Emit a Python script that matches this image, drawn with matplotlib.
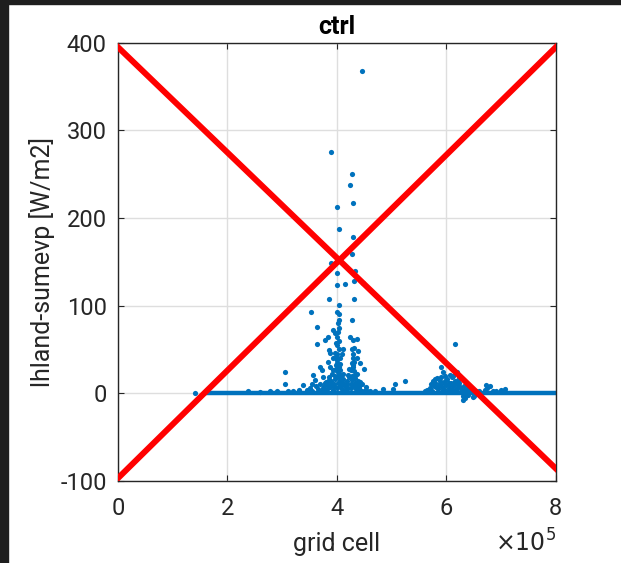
import matplotlib

matplotlib.use("Agg")

import matplotlib.pyplot as plt
from matplotlib.patches import Rectangle
from matplotlib.ticker import FuncFormatter

plt.rcParams["font.family"] = ["Roboto", "DejaVu Sans"]
plt.rcParams["axes.unicode_minus"] = False

# grid cells of the scattered (non-zero) points, and their values
cell_x = [
    4.46e5, 3.89e5, 4.27e5, 4.24e5, 4.29e5, 4.01e5, 4.04e5, 4.30e5, 4.27e5, 3.90e5,
    4.01e5, 4.33e5, 4.01e5, 4.14e5, 4.48e5, 4.32e5, 3.86e5, 4.31e5, 4.04e5, 3.53e5,
    4.01e5, 4.04e5, 4.03e5, 4.27e5, 4.02e5, 3.63e5, 4.04e5, 3.93e5, 3.96e5, 4.01e5,
    3.84e5, 4.24e5, 4.30e5, 4.36e5, 3.78e5, 3.64e5, 3.99e5, 3.86e5, 3.88e5, 4.12e5,
    4.27e5, 4.39e5, 4.09e5, 4.29e5, 4.36e5, 3.99e5, 3.69e5, 3.72e5, 3.84e5, 3.87e5,
    3.93e5, 4.01e5, 4.05e5, 4.42e5, 4.49e5, 4.21e5, 3.05e5, 3.05e5, 3.57e5, 3.60e5,
    3.38e5, 3.75e5, 4.12e5, 3.54e5, 3.81e5, 4.05e5, 4.33e5, 4.42e5, 4.54e5, 4.85e5,
    5.06e5, 5.03e5, 2.78e5, 6.16e5, 5.24e5, 5.91e5, 5.94e5, 6.19e5, 6.06e5, 5.79e5,
    6.00e5, 6.22e5, 6.73e5, 6.79e5, 7.07e5, 6.31e5, 6.49e5, 5.61e5, 1.41e5, 2.37e5,
    3.45e5, 3.50e5, 3.55e5, 3.62e5, 3.66e5, 3.70e5, 3.74e5, 3.78e5, 3.80e5, 3.83e5,
    3.85e5, 3.88e5, 3.90e5, 3.92e5, 3.95e5, 3.97e5, 4.00e5, 4.00e5, 4.02e5, 4.03e5,
    4.04e5, 4.05e5, 4.07e5, 4.10e5, 4.12e5, 4.15e5, 4.18e5, 4.20e5, 4.22e5, 4.25e5,
    4.27e5, 4.28e5, 4.30e5, 4.31e5, 4.33e5, 4.35e5, 4.37e5, 4.40e5, 4.43e5, 4.46e5,
    4.50e5, 4.55e5, 4.60e5, 4.70e5, 4.00e5, 4.01e5, 4.02e5, 4.00e5, 3.99e5, 4.30e5,
    4.29e5, 4.31e5, 4.28e5, 5.65e5, 5.70e5, 5.72e5, 5.75e5, 5.78e5, 5.80e5, 5.83e5,
    5.85e5, 5.88e5, 5.90e5, 5.92e5, 5.95e5, 5.97e5, 6.00e5, 6.02e5, 6.05e5, 6.08e5,
    6.10e5, 6.12e5, 6.15e5, 6.17e5, 6.20e5, 6.23e5, 6.25e5, 6.28e5, 6.30e5, 6.32e5,
    6.35e5, 6.38e5, 6.40e5, 6.45e5, 6.50e5, 6.55e5, 6.60e5, 6.70e5, 6.75e5, 6.85e5,
    6.90e5, 7.00e5, 2.60e5, 2.90e5, 3.10e5, 3.20e5, 3.30e5,
    3.72e5, 3.76e5, 3.82e5, 3.86e5, 3.89e5, 3.91e5, 3.94e5, 3.96e5, 3.98e5, 4.01e5,
    4.03e5, 4.06e5, 4.08e5, 4.11e5, 4.16e5, 4.19e5, 4.23e5, 4.26e5, 4.29e5, 4.32e5,
    4.34e5, 4.38e5, 4.41e5, 4.44e5, 3.92e5, 3.97e5, 4.03e5, 4.06e5, 4.26e5, 4.32e5,
    5.74e5, 5.81e5, 5.86e5, 5.89e5, 5.93e5, 5.98e5, 6.03e5, 6.07e5, 6.11e5, 6.14e5,
    6.18e5, 6.21e5, 6.24e5, 6.27e5, 6.33e5, 6.36e5, 6.42e5, 5.96e5, 6.04e5, 6.13e5,
]
cell_val = [
    368, 275, 250, 238, 217, 213, 188, 178, 159, 149,
    137, 139, 123, 125, 126, 128, 107, 108, 101, 93,
    93, 90, 84, 84, 80, 76, 74, 72, 69, 64,
    64, 64, 61, 62, 61, 56, 57, 49, 46, 50,
    50, 48, 45, 45, 40, 41, 30, 26, 36, 30,
    26, 38, 40, 34, 28, 21, 24, 11, 21, 15,
    9, 19, 22, 11, 13, 15, 17, 13, 7, 5,
    10, 5, 3, 56, 14, 30, 24, 24, 21, 16,
    15, 15, 9, 8, 5, -8, -4, 3, 0, 2,
    4, 6, 3, 8, 5, 10, 6, 12, 4, 9,
    18, 7, 14, 4, 11, 20, 6, 25, 12, 30,
    50, 8, 18, 5, 12, 8, 14, 6, 28, 10,
    35, 20, 8, 25, 12, 5, 22, 9, 4, 10,
    3, 2, 3, 2, 45, 55, 70, 35, 28, 30,
    40, 52, 15, 4, 6, 10, 14, 8, 12, 17,
    5, 11, 19, 7, 13, 20, 9, 16, 6, 12,
    18, 8, 14, 5, 10, 19, 7, 4, -3, 8,
    -5, 5, -2, 3, -3, 2, 3, 4, 6, 3,
    2, 4, 1.5, 2, 3, 2, 4,
    3, 8, 5, 15, 10, 22, 8, 16, 32, 18,
    22, 27, 11, 16, 4, 10, 18, 6, 32, 20,
    9, 14, 7, 3, 40, 46, 60, 33, 26, 36,
    3, 7, 9, 14, 4, 11, 3, 10, 4, 11,
    3, 7, 12, 2, 3, -1, 1, 5, 12, 20,
]

# near-zero band of cells
band_x = [1.6e5, 8.0e5]
band_val = [0, 0]

# red cross lines
cross1_x = [0, 8e5]
cross1_y = [395, -86]
cross2_x = [0, 8e5]
cross2_y = [-97, 395]

blue = "#0072BD"

fig = plt.figure(figsize=(6.21, 5.63), dpi=100)
fig.patches.append(Rectangle((0, 1 - 4 / 563), 1, 4 / 563, transform=fig.transFigure,
                             color="#1e1e1e", zorder=-1))
fig.patches.append(Rectangle((0, 0), 8 / 621, 1, transform=fig.transFigure,
                             color="#1e1e1e", zorder=-1))

ax = fig.add_axes([0.19, 0.146, 0.705, 0.778])
ax.plot(band_x, band_val, color=blue, linewidth=3.2, solid_capstyle="round", zorder=2)
ax.scatter(cell_x, cell_val, s=14, color=blue, linewidths=0, zorder=3)
ax.plot(cross1_x, cross1_y, color="red", linewidth=4.3, zorder=4)
ax.plot(cross2_x, cross2_y, color="red", linewidth=4.3, zorder=4)

ax.set_xlim(0, 8e5)
ax.set_ylim(-100, 400)
ax.set_xticks([0, 2e5, 4e5, 6e5, 8e5])
ax.set_yticks([-100, 0, 100, 200, 300, 400])
ax.xaxis.set_major_formatter(FuncFormatter(lambda v, p: f"{v / 1e5:g}"))
ax.grid(True, color="#dedede", linewidth=1.0)
ax.set_axisbelow(True)
ax.tick_params(direction="in", top=True, right=True, length=4, labelsize=17,
               colors="#262626")
ax.tick_params(axis="x", pad=12)
ax.tick_params(axis="y", pad=8)
for s in ax.spines.values():
    s.set_color("#262626")
    s.set_linewidth(1.0)

ax.set_title("ctrl", fontsize=18, fontweight="bold", pad=6)
ax.set_xlabel("grid cell", fontsize=18, color="#262626", labelpad=8)
ax.set_ylabel("lhland-sumevp [W/m2]", fontsize=18, color="#262626", labelpad=4)
ax.text(1.0, -0.112, r"$\times10^{5}$", transform=ax.transAxes, ha="right", va="top",
        fontsize=17, color="#262626")

fig.savefig("out.png", dpi=100)
